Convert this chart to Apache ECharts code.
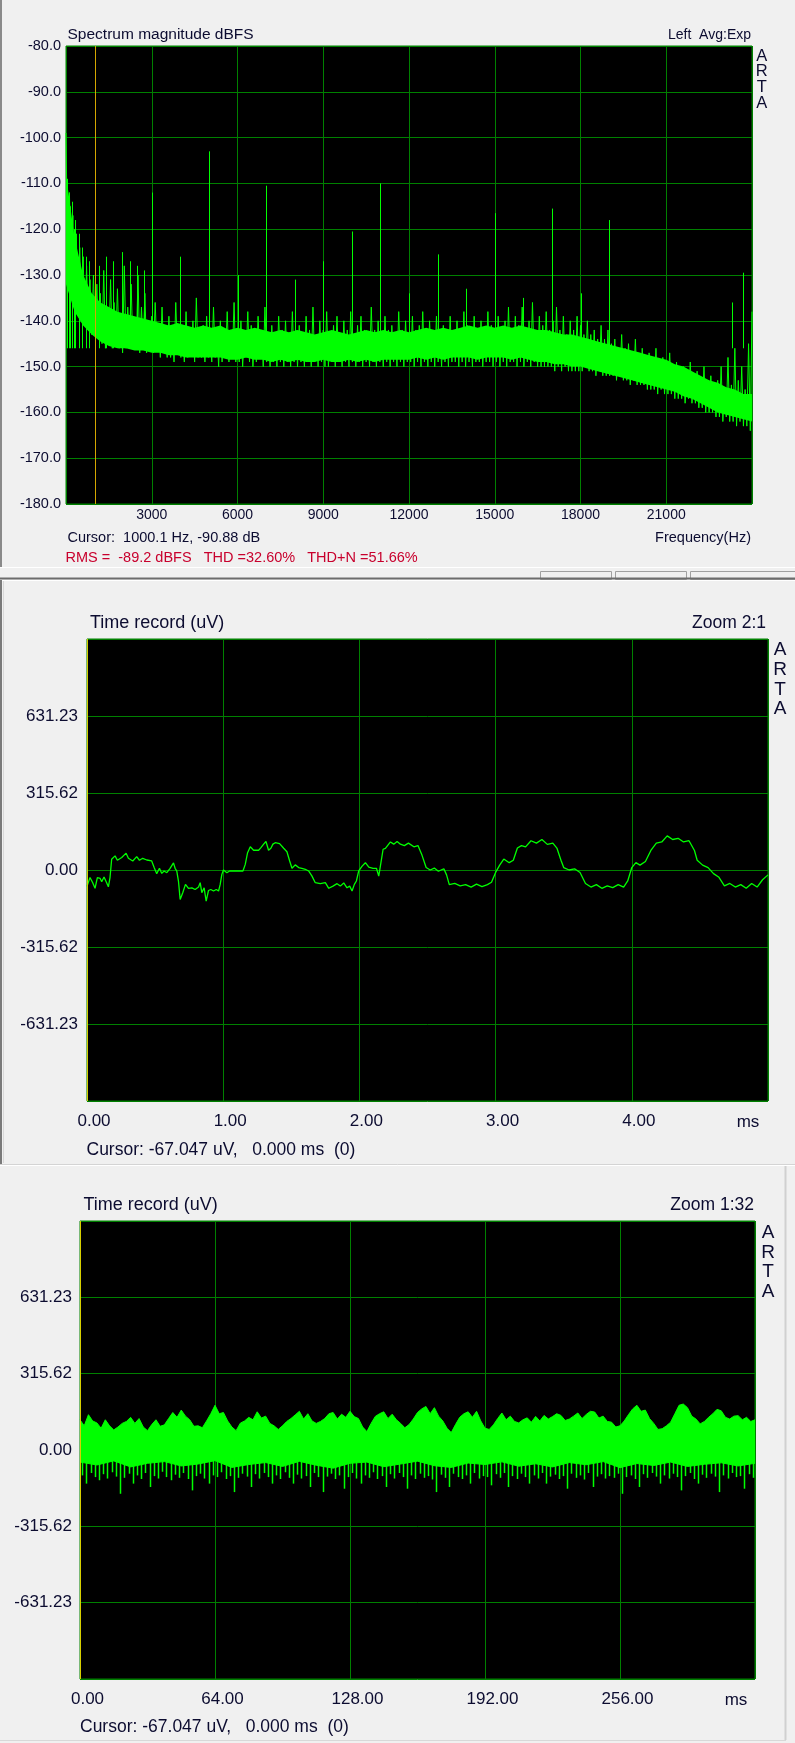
<!DOCTYPE html>
<html><head><meta charset="utf-8">
<script src="https://cdn.jsdelivr.net/npm/echarts@6/dist/echarts.min.js"></script>
<style>html,body{margin:0;padding:0;background:#f0f0f0;}#c{width:795px;height:1743px;}</style>
</head><body><div id="c"></div>
<script>
// ================= DATA =================
// Panel 1: spectrum magnitude (dBFS), FFT display bins every 60 Hz from 0 to 24000 Hz
const specBinHz = 60;
const specDb = [
-99,-128,-112,-133,-117,-136,-121,-138,-124,-139,-126,-141,-128,-142,-131,-143,-130,-143,-132,-144,
-134,-145,-129,-146,-138,-145,-131,-146,-136,-145,-133,-146,-139,-147,-128,-146,-137,-145,-132,-146,
-140,-146,-130,-147,-137,-146,-134,-147,-141,-146,-139,-147,-136,-146,-141,-148,-137,-147,-142,-148,
-139,-148,-142,-149,-136,-147,-141,-148,-143,-149,-138,-148,-142,-147,-140,-149,-135,-148,-142,-148,
-141,-149,-139,-148,-143,-149,-137,-148,-142,-150,-140,-149,-143,-148,-138,-149,-142,-148,-136,-149,
-142,-149,-140,-150,-143,-148,-138,-149,-141,-150,-143,-149,-139,-148,-142,-150,-137,-149,-143,-150,
-141,-149,-143,-150,-139,-149,-142,-150,-140,-149,-143,-150,-138,-149,-142,-150,-141,-149,-143,-150,
-139,-149,-142,-150,-137,-149,-143,-150,-140,-149,-142,-150,-138,-150,-143,-149,-141,-150,-139,-149,
-143,-150,-140,-149,-142,-150,-138,-149,-143,-150,-141,-149,-139,-150,-142,-149,-143,-150,-137,-149,
-142,-150,-140,-149,-143,-150,-139,-149,-142,-150,-141,-149,-143,-150,-138,-149,-142,-150,-140,-149,
-143,-149,-139,-150,-142,-149,-141,-150,-138,-149,-143,-150,-140,-149,-142,-150,-139,-149,-143,-150,
-141,-149,-142,-150,-139,-149,-143,-149,-140,-150,-142,-149,-138,-150,-141,-149,-143,-150,-139,-149,
-142,-149,-140,-150,-143,-149,-138,-149,-141,-150,-142,-149,-139,-150,-143,-149,-140,-150,-137,-149,
-142,-149,-139,-150,-141,-149,-137,-150,-142,-149,-140,-150,-136,-149,-142,-150,-139,-150,-141,-150,
-138,-150,-142,-150,-140,-151,-137,-150,-142,-151,-139,-150,-143,-151,-140,-151,-142,-151,-139,-151,
-141,-151,-143,-150,-140,-151,-143,-151,-142,-152,-144,-151,-141,-152,-144,-152,-142,-152,-145,-152,
-144,-153,-146,-152,-143,-153,-146,-153,-145,-154,-147,-153,-144,-154,-147,-154,-146,-154,-148,-155,
-147,-155,-149,-155,-146,-156,-149,-155,-148,-156,-150,-156,-147,-156,-150,-157,-149,-157,-151,-157,
-150,-158,-152,-157,-149,-158,-152,-158,-151,-159,-153,-159,-150,-160,-154,-160,-152,-160,-155,-161,
-153,-161,-150,-162,-155,-161,-148,-162,-154,-162,-146,-163,-153,-162,-150,-163,-155,-163,-145,-164,
-138];
// dense noise-floor core, read every 300 Hz (top and bottom edge, dBFS)
const specCoreStepHz = 300;
const specCoreTop = [-108,-122,-130,-134,-136,-137,-138,-138.5,-139,-139.5,
-140,-140.5,-141,-140.5,-141,-141.5,-141,-141.5,-141,-142,
-141.5,-142,-141.5,-142,-142.5,-142,-142.5,-142,-142.5,-143,
-142.5,-142,-142.5,-143,-142.5,-142,-142.5,-142,-142.5,-142,
-142.5,-142,-141.5,-142,-141.5,-142,-141.5,-141,-141.5,-141,
-141.5,-141,-141.5,-141,-141.5,-142,-142,-142.5,-143,-143,
-143.5,-144,-144.5,-145,-145.5,-146,-146.5,-147,-147.5,-148,
-148.5,-149.5,-150,-151,-152,-153,-153.5,-154.5,-155,-156,-156];
const specCoreBot = [-132,-138,-141,-143,-144.5,-145.5,-146,-146,-146.5,-146.5,
-147,-147,-147.5,-147.5,-148,-148,-148,-148,-148,-148.5,
-148.5,-148,-148.5,-148.5,-149,-148.5,-149,-148.5,-149,-149,
-148.5,-149,-149,-148.5,-149,-148.5,-149,-148.5,-148.5,-148.5,
-148.5,-148,-148.5,-148,-148.5,-148,-148,-148,-148.5,-148,
-148,-148,-148.5,-148,-148.5,-149,-149,-149.5,-149.5,-150,
-150,-150.5,-151,-151.5,-152,-152.5,-153,-153.5,-154,-154.5,
-155,-155.5,-156.5,-157,-158,-159,-160,-160.5,-161,-161.5,-162];
// narrow spectral lines (Hz, dBFS) rising out of the noise floor
const specPeakHz = [30,90,150,210,270,330,450,570,690,810,1000.1,1170,1410,1650,1950,2250,2490,2730,3000,3990,5000,6000,7000,8000,9000,10000,11000,12000,13000,14000,15000,16000,17000,18000,19000,23300,23700];
const specPeakDb = [-109,-113,-115,-114,-120,-118,-121,-124,-126,-127,-90.88,-128,-126,-127,-125,-127,-128,-129,-112,-126,-103,-130,-110.5,-131,-127,-120.5,-110,-134,-125.5,-133,-116.5,-135,-115.5,-134,-118,-136,-129.5];
const specPeakFloor = -146;
const specCursorHz = 1000.1;

// Panel 2: time record, zoom 2:1 (ms, uV)
const t2 = [0,0.022,0.042,0.059,0.076,0.096,0.108,0.125,0.145,0.157,0.169,0.181,0.206,0.223,0.255,0.287,0.304,0.336,0.365,0.385,0.409,0.439,0.475,0.493,0.512,0.532,0.549,0.566,0.586,0.610,0.635,0.647,0.659,0.672,0.684,0.703,0.723,0.745,0.770,0.794,0.819,0.831,0.843,0.860,0.875,0.892,0.909,0.929,0.949,0.966,0.978,0.990,1.002,1.027,1.047,1.076,1.113,1.145,1.162,1.179,1.199,1.223,1.260,1.277,1.297,1.314,1.333,1.350,1.365,1.382,1.414,1.444,1.468,1.488,1.505,1.529,1.554,1.578,1.603,1.627,1.652,1.676,1.713,1.750,1.775,1.806,1.836,1.860,1.885,1.909,1.929,1.946,1.963,1.978,1.995,2.020,2.044,2.069,2.100,2.125,2.142,2.154,2.174,2.191,2.203,2.228,2.252,2.277,2.301,
2.33,2.36,2.40,2.43,2.46,2.49,2.52,2.55,2.58,2.62,2.64,2.66,2.70,2.74,2.78,2.82,2.86,2.90,2.94,2.97,3.00,3.03,3.06,3.10,3.13,3.16,3.19,3.22,3.26,3.30,3.34,3.38,3.42,3.45,3.48,3.50,3.54,3.58,3.62,3.66,3.70,3.74,3.78,3.82,3.86,3.90,3.94,3.97,4.00,4.03,4.06,4.10,4.14,4.18,4.22,4.26,4.30,4.34,4.38,4.42,4.46,4.48,4.52,4.56,4.60,4.64,4.68,4.72,4.76,4.80,4.84,4.88,4.92,4.96,5.00];
const v2 = [-67,-31,-52,-75,-31,-34,-48,-29,-53,-69,-31,44,58,40,51,69,48,37,55,40,48,41,37,10,-15,7,-14,-4,-11,7,29,7,-4,-48,-121,-93,-59,-75,-73,-80,-70,-52,-93,-73,-128,-84,-80,-86,-80,-86,-59,-18,0,-11,-4,-4,-4,-4,23,71,95,81,81,92,106,117,81,89,106,112,108,89,75,37,7,21,10,7,3,-4,-25,-52,-56,-52,-75,-66,-56,-66,-53,-73,-66,-86,-59,-45,-4,16,30,12,7,7,-25,16,85,89,81,115,106,117,106,
100,110,95,100,60,10,0,8,-5,5,-20,-60,-55,-65,-60,-70,-58,-68,-60,-50,-10,20,45,30,40,90,100,95,120,110,125,105,110,90,40,10,0,5,-10,-55,-70,-60,-75,-65,-72,-60,-70,-45,10,30,20,35,80,110,115,140,125,130,115,120,80,40,20,10,-15,-30,-65,-55,-70,-60,-75,-55,-70,-40,-20];

// Panel 3: time record, zoom 1:32 (ms, uV)
const t3Step = 2;      // upper envelope every 2 ms
const v3Upper = [125,100,146,120,112,90,125,100,83,95,110,118,135,110,130,95,80,105,125,98,
104,130,155,135,165,140,125,98,100,92,120,150,185,150,155,120,95,80,111,120,
135,125,158,132,140,110,100,85,100,118,130,145,160,128,150,120,110,118,130,150,
155,128,148,135,160,138,130,95,76,110,139,150,158,130,148,125,110,92,105,128,
155,170,180,150,175,140,120,90,72,105,135,150,158,135,160,120,90,85,104,130,
153,125,140,118,112,125,133,115,139,120,143,128,138,150,143,122,128,140,153,130,
147,160,157,132,140,118,115,95,100,120,146,170,185,160,165,130,110,85,88,100,
115,150,185,190,175,140,128,108,118,135,150,168,162,135,128,140,142,125,135,118,125];
const t3LowStep = 8;   // lower solid edge every 8 ms
const v3Lower = [-50,-62,-45,-70,-55,-48,-66,-58,-44,-72,-60,-52,-68,-47,-63,-75,-55,-50,-69,-58,-46,-65,-72,-54,-60,-49,-67,-57,-70,-52,-61,-48,-73,-56,-64,-50,-68,-59,-53,-66,-55];
const t3SpkStep = 2;   // negative excursions, every 2 ms starting at 1 ms
const v3Spikes = [-105,-139,-95,-112,-125,-100,-118,-92,-110,-181,-115,-98,-139,-105,-120,-95,-153,-108,-118,-90,
-112,-125,-102,-115,-95,-120,-167,-108,-98,-118,-139,-105,-112,-92,-120,-108,-174,-115,-98,-110,
-153,-100,-118,-95,-112,-139,-105,-120,-92,-115,-139,-102,-118,-108,-153,-95,-112,-174,-110,-98,
-120,-105,-160,-112,-95,-118,-139,-105,-115,-92,-120,-108,-153,-100,-118,-95,-112,-160,-105,-120,
-98,-115,-108,-122,-174,-102,-115,-153,-98,-112,-120,-105,-139,-95,-118,-108,-112,-146,-100,-115,
-95,-153,-108,-120,-98,-112,-139,-105,-118,-95,-139,-110,-102,-120,-108,-160,-98,-115,-105,-122,
-95,-153,-110,-100,-118,-108,-115,-98,-181,-112,-105,-120,-153,-100,-115,-95,-110,-139,-105,-118,
-98,-112,-167,-108,-95,-120,-139,-102,-115,-98,-110,-174,-105,-118,-95,-112,-108,-160,-100,-115];

// tick label texts
const ampStep = 315.615;
const ampLabels = ['-946.85','-631.23','-315.62','0.00','315.62','631.23','946.85'];

// ================= CHART =================
const FONT = '"Liberation Sans", Arial, sans-serif';
const TXT = '#0c0c30';
const GRIDC = '#008000';
const TRACE = '#00ff00';
const chart = echarts.init(document.getElementById('c'), null, {renderer: 'canvas'});

function vLine(xAxisIndex, yAxisIndex, data, color, z, w) {
  return {
    type: 'custom', xAxisIndex, yAxisIndex, z, silent: true, animation: false, clip: true,
    data,
    renderItem: (params, api) => {
      const a = api.coord([api.value(0), api.value(1)]);
      const b = api.coord([api.value(0), api.value(2)]);
      const x = Math.round(a[0]) + 0.5;
      return {type: 'line', shape: {x1: x, y1: a[1], x2: x, y2: b[1]}, style: {stroke: color, lineWidth: w || 1}};
    }
  };
}
function band(xAxisIndex, yAxisIndex, step, top, bot, color, z) {
  return {
    type: 'custom', xAxisIndex, yAxisIndex, z, silent: true, animation: false, clip: true,
    data: [[0, top[0]]],
    renderItem: (params, api) => {
      const pts = [];
      for (let i = 0; i < top.length; i++) pts.push(api.coord([i * step, top[i]]));
      for (let i = bot.length - 1; i >= 0; i--) pts.push(api.coord([i * step, bot[i]]));
      return {type: 'polygon', shape: {points: pts}, style: {fill: color}};
    }
  };
}
function axisLabel(extra) {
  return Object.assign({color: TXT, fontFamily: FONT}, extra);
}
const split = {show: true, lineStyle: {color: GRIDC, width: 1}};
const noLine = {show: false};

function txt(text, x, y, size, align, color) {
  return {type: 'text', x, y, silent: true, style: {text, font: size + 'px ' + FONT, fill: color || TXT,
    align: align || 'left', verticalAlign: 'middle', textAlign: align || 'left', textVerticalAlign: 'middle'}};
}
function ln(x1, y1, x2, y2, color, w) {
  return {type: 'line', silent: true, shape: {x1, y1, x2, y2}, style: {stroke: color, lineWidth: w || 1}};
}
function arta(x, y0, dy, size) {
  return ['A', 'R', 'T', 'A'].map((c, i) => txt(c, x, y0 + i * dy, size, 'center'));
}

const specData = specDb.map((v, i) => [i * specBinHz, v]);
const p2Data = t2.map((t, i) => [t, v2[i]]);
const p3Up = v3Upper.map((v, i) => [i * t3Step, v]);
const p3Lo = v3Lower.map((v, i) => [i * t3LowStep, v]);
const p3Spk = v3Spikes.map((v, i) => [1 + i * t3SpkStep, 0, v]);

const graphics = [
  // window frames
  ln(1, 0, 1, 567, '#8a8a8a', 2),
  ln(0, 567.5, 795, 567.5, '#ffffff', 1),
  {type: 'rect', silent: true, shape: {x: 540.5, y: 571.5, width: 71, height: 8}, style: {fill: 'none', stroke: '#a0a0a0'}},
  {type: 'rect', silent: true, shape: {x: 615.5, y: 571.5, width: 71, height: 8}, style: {fill: 'none', stroke: '#a0a0a0'}},
  {type: 'rect', silent: true, shape: {x: 690.5, y: 571.5, width: 110, height: 8}, style: {fill: 'none', stroke: '#a0a0a0'}},
  ln(0, 578.5, 795, 578.5, '#6c6c6c', 2),
  ln(0, 580.5, 795, 580.5, '#ffffff', 1),
  ln(1, 580, 1, 1164, '#7a7a7a', 2),
  ln(3.5, 581, 3.5, 1163, '#d8d8d8', 1),
  ln(0, 1164.5, 795, 1164.5, '#d4d4d4', 1),
  ln(0, 1165.5, 795, 1165.5, '#ffffff', 1),
  ln(785.5, 1166, 785.5, 1740, '#d0d0d0', 2),
  ln(0, 1740.5, 786, 1740.5, '#d8d8d8', 1),
  // panel 1 texts
  txt('Spectrum magnitude dBFS', 67.5, 35, 15.5),
  txt('Left  Avg:Exp', 751, 35, 14, 'right'),
  ...arta(761.7, 56, 15.7, 16.5),
  txt('Cursor:  1000.1 Hz, -90.88 dB', 67.5, 538, 14.5),
  txt('Frequency(Hz)', 751, 538, 14.5, 'right'),
  txt('RMS =  -89.2 dBFS   THD =32.60%   THD+N =51.66%', 65.5, 557.5, 14.5, 'left', '#c8002d'),
  // panel 2 texts
  txt('Time record (uV)', 90, 623, 18),
  txt('Zoom 2:1', 766, 623, 17.5, 'right'),
  ...arta(780, 650, 19.7, 19),
  txt('ms', 748, 1122, 17, 'center'),
  txt('Cursor: -67.047 uV,   0.000 ms  (0)', 86.5, 1150, 17.5),
  // panel 3 texts
  txt('Time record (uV)', 83.5, 1205, 18),
  txt('Zoom 1:32', 754, 1205, 17.5, 'right'),
  ...arta(768, 1233, 19.5, 19),
  txt('ms', 736, 1700, 17, 'center'),
  txt('Cursor: -67.047 uV,   0.000 ms  (0)', 80, 1727, 17.5)
];

const ampFormatter = v => { const k = Math.round(v / ampStep) + 3; return ampLabels[k] || ''; };

const option = {
  animation: false,
  backgroundColor: '#f0f0f0',
  grid: [
    {left: 66, top: 46, width: 686, height: 458, show: true, backgroundColor: '#000', borderColor: GRIDC, borderWidth: 1, containLabel: false, outerBoundsMode: 'none'},
    {left: 87, top: 639, width: 681, height: 462, show: true, backgroundColor: '#000', borderColor: GRIDC, borderWidth: 1, containLabel: false, outerBoundsMode: 'none'},
    {left: 80, top: 1221, width: 675, height: 458, show: true, backgroundColor: '#000', borderColor: GRIDC, borderWidth: 1, containLabel: false, outerBoundsMode: 'none'}
  ],
  xAxis: [
    {gridIndex: 0, type: 'value', min: 0, max: 24000, interval: 3000, axisLine: noLine, axisTick: noLine, splitLine: split,
      axisLabel: axisLabel({fontSize: 14, margin: 4, showMinLabel: false, showMaxLabel: false, formatter: v => String(v)})},
    {gridIndex: 1, type: 'value', min: 0, max: 5, interval: 1, axisLine: noLine, axisTick: noLine, splitLine: split,
      axisLabel: axisLabel({fontSize: 17, margin: 12, showMaxLabel: false, padding: [0, 0, 0, 14], formatter: v => v.toFixed(2)})},
    {gridIndex: 2, type: 'value', min: 0, max: 320, interval: 64, axisLine: noLine, axisTick: noLine, splitLine: split,
      axisLabel: axisLabel({fontSize: 17, margin: 12, showMaxLabel: false, padding: [0, 0, 0, 15], formatter: v => v.toFixed(2)})}
  ],
  yAxis: [
    {gridIndex: 0, type: 'value', min: -180, max: -80, interval: 10, axisLine: noLine, axisTick: noLine, splitLine: split,
      axisLabel: axisLabel({fontSize: 14.5, margin: 5, formatter: v => v.toFixed(1)})},
    {gridIndex: 1, type: 'value', min: -3 * ampStep, max: 3 * ampStep, interval: ampStep, axisLine: noLine, axisTick: noLine, splitLine: split,
      axisLabel: axisLabel({fontSize: 17, margin: 9, showMinLabel: false, showMaxLabel: false, formatter: ampFormatter})},
    {gridIndex: 2, type: 'value', min: -3 * ampStep, max: 3 * ampStep, interval: ampStep, axisLine: noLine, axisTick: noLine, splitLine: split,
      axisLabel: axisLabel({fontSize: 17, margin: 8, showMinLabel: false, showMaxLabel: false, formatter: ampFormatter})}
  ],
  series: [
    band(0, 0, specCoreStepHz, specCoreTop, specCoreBot, TRACE, 2),
    {type: 'line', xAxisIndex: 0, yAxisIndex: 0, data: specData, symbol: 'none', smooth: false, z: 3,
      lineStyle: {color: TRACE, width: 1}, itemStyle: {color: TRACE}},
    vLine(0, 0, specPeakHz.map((f, i) => [f, specPeakFloor, specPeakDb[i]]), TRACE, 3),
    vLine(0, 0, [[specCursorHz, -180, -80]], '#d4a600', 5),

    {type: 'line', xAxisIndex: 1, yAxisIndex: 1, data: p2Data, symbol: 'none', z: 2,
      lineStyle: {color: TRACE, width: 1.3}, itemStyle: {color: TRACE}},
    vLine(1, 1, [[0, -3 * ampStep, 3 * ampStep]], '#d8d000', 5),

    {type: 'line', xAxisIndex: 2, yAxisIndex: 2, data: p3Up, symbol: 'none', z: 2,
      lineStyle: {color: TRACE, width: 1}, areaStyle: {color: TRACE, opacity: 1}, itemStyle: {color: TRACE}},
    {type: 'line', xAxisIndex: 2, yAxisIndex: 2, data: p3Lo, symbol: 'none', z: 2,
      lineStyle: {color: TRACE, width: 1}, areaStyle: {color: TRACE, opacity: 1}, itemStyle: {color: TRACE}},
    vLine(2, 2, p3Spk, TRACE, 3, 1.5),
    vLine(2, 2, [[0, -3 * ampStep, 3 * ampStep]], '#d8d000', 5)
  ],
  graphic: graphics
};
chart.setOption(option);
</script></body></html>
